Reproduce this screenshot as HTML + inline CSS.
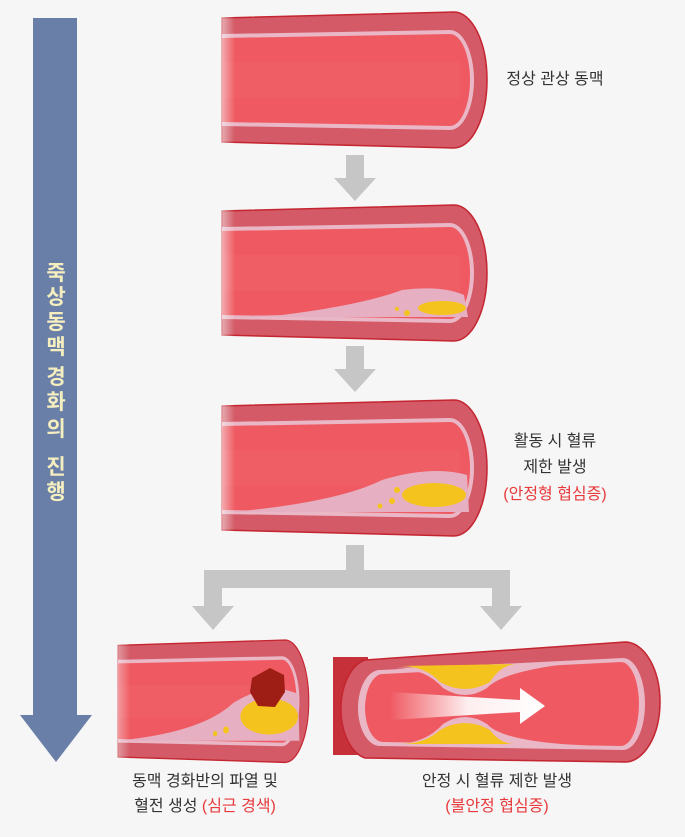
<!DOCTYPE html>
<html><head><meta charset="utf-8"><style>
html,body{margin:0;padding:0;background:#f6f6f6;}
svg{display:block;}
text{font-family:"Liberation Sans","Noto Sans CJK KR",sans-serif;}
</style></head><body>
<svg width="685" height="837" viewBox="0 0 685 837" xmlns="http://www.w3.org/2000/svg">
<defs>
<linearGradient id="fadeL" x1="0" x2="1" y1="0" y2="0">
<stop offset="0" stop-color="#f6f6f6" stop-opacity="1"/><stop offset="1" stop-color="#f6f6f6" stop-opacity="0"/>
</linearGradient>
<linearGradient id="flow" x1="0" x2="1"><stop offset="0" stop-color="#fff" stop-opacity="0"/><stop offset="0.5" stop-color="#fff" stop-opacity="0.9"/><stop offset="1" stop-color="#fff"/></linearGradient>
<g id="vessel">
<path d="M0,6 L232,0 A33,68 0 0 1 232,136 L0,130 Z" fill="#d35a66" stroke="#c42530" stroke-width="1.5"/>
<path d="M0,22 L228,18 A24,50 0 0 1 228,118 L0,114 Z" fill="#eab7c6"/>
<path d="M0,26 L228,22 A20,46 0 0 1 228,114 L0,110 Z" fill="#ef5a62"/>
<rect x="0" y="50" width="238" height="36" fill="#f4666c" opacity="0.35"/>
</g>
</defs>

<!-- left big arrow -->
<rect x="33" y="18" width="44" height="700" fill="#6a7fa8"/>
<polygon points="20,715 92,715 56,762" fill="#6a7fa8"/>
<g fill="#f5efbf" font-size="21" font-weight="bold" text-anchor="middle">
<text x="56" y="280">죽</text><text x="56" y="304">상</text><text x="56" y="329">동</text><text x="56" y="354">맥</text>
<text x="56" y="384">경</text><text x="56" y="409">화</text><text x="56" y="436">의</text>
<text x="56" y="474">진</text><text x="56" y="499">행</text>
</g>

<!-- gray arrows -->
<g fill="#c6c6c6">
<rect x="346" y="155" width="18" height="25"/><polygon points="334,178 376,178 355,201"/>
<rect x="346" y="346" width="18" height="25"/><polygon points="334,369 376,369 355,392"/>
<rect x="346" y="545" width="18" height="32"/>
<rect x="204" y="570" width="306" height="18"/>
<rect x="204" y="570" width="18" height="38"/><polygon points="192,606 234,606 213,630"/>
<rect x="492" y="570" width="18" height="38"/><polygon points="480,606 522,606 501,630"/>
</g>

<!-- vessel 1 -->
<use href="#vessel" transform="translate(222,12)"/>
<!-- vessel 2 -->
<g transform="translate(222,205)">
<use href="#vessel"/>
<path d="M60,110 Q140,100 180,85 Q220,80 242,90 L246,112 L0,112 Z" fill="#e6b0c2"/>
<ellipse cx="220" cy="103" rx="24" ry="7" fill="#f4c31e"/>
<circle cx="185" cy="108" r="3" fill="#f4c31e"/><circle cx="175" cy="104" r="2" fill="#f4c31e"/>
</g>
<!-- vessel 3 -->
<g transform="translate(222,400)">
<use href="#vessel"/>
<path d="M30,110 Q120,100 160,80 Q210,65 245,75 L247,112 L0,112 Z" fill="#e6b0c2"/>
<ellipse cx="212" cy="95" rx="32" ry="12" fill="#f4c31e"/>
<circle cx="170" cy="101" r="3" fill="#f4c31e"/><circle cx="158" cy="106" r="2.5" fill="#f4c31e"/><circle cx="175" cy="90" r="3" fill="#f4c31e"/>
</g>
<!-- bottom left -->
<g transform="translate(118,640) scale(0.72,0.9)">
<use href="#vessel"/>
<path d="M20,110 Q120,100 160,70 Q210,45 250,60 L252,112 L0,112 Z" fill="#e6b0c2"/>
<ellipse cx="210" cy="85" rx="40" ry="20" fill="#f4c31e"/>
<circle cx="150" cy="100" r="4" fill="#f4c31e"/><circle cx="135" cy="104" r="3" fill="#f4c31e"/>
</g>
<path d="M252,678 L270,668 L284,675 L285,692 L275,707 L258,706 L250,692 Z" fill="#9e1e16"/>
<!-- bottom right -->
<rect x="333" y="657" width="35" height="98" fill="#c63038"/>
<g transform="translate(355,640)">
<path d="M10,20 L270,2 A35,60 0 0 1 270,122 L10,118 A30,50 0 0 1 10,20 Z" fill="#d35a66" stroke="#c42530" stroke-width="1.5"/>
<path d="M25,30 L268,18 A22,46 0 0 1 268,110 L25,106 A22,38 0 0 1 25,30 Z" fill="#eab7c6"/>
<path d="M28,34 L266,22 A18,42 0 0 1 266,106 L28,102 A18,34 0 0 1 28,34 Z" fill="#ef5a62"/>
<path d="M35,30 Q70,28 90,45 Q110,58 130,45 Q150,28 250,20 L250,22 L35,32 Z" fill="#eab7c6"/>
<path d="M40,28 Q70,28 88,48 Q110,62 132,48 Q150,28 250,20 Z" fill="#eab7c6"/>
<path d="M45,26 Q70,26 85,42 Q110,56 135,42 Q145,26 160,24 Z" fill="#f4c31e"/>
<path d="M40,104 Q70,104 88,84 Q110,70 132,84 Q150,104 250,106 Z" fill="#eab7c6"/>
<path d="M45,104 Q70,104 85,90 Q110,76 135,90 Q145,104 160,104 Z" fill="#f4c31e"/>
<polygon points="35,52 165,60 165,48 190,66 165,84 165,72 35,80" fill="url(#flow)"/>
</g>
<rect x="100" y="620" width="30" height="150" fill="url(#fadeL)"/>
<rect x="210" y="5" width="25" height="540" fill="url(#fadeL)"/>

<!-- labels -->
<g font-size="16" fill="#333" text-anchor="middle">
<text x="555" y="84">정상 관상 동맥</text>
<text x="555" y="446">활동 시 혈류</text>
<text x="555" y="472">제한 발생</text>
<text x="555" y="499" fill="#e8393c">(안정형 협심증)</text>
<text x="205" y="786">동맥 경화반의 파열 및</text>
<text x="205" y="811">혈전 생성 <tspan fill="#e8393c">(심근 경색)</tspan></text>
<text x="497" y="786">안정 시 혈류 제한 발생</text>
<text x="497" y="811" fill="#e8393c">(불안정 협심증)</text>
</g>
</svg>
</body></html>
